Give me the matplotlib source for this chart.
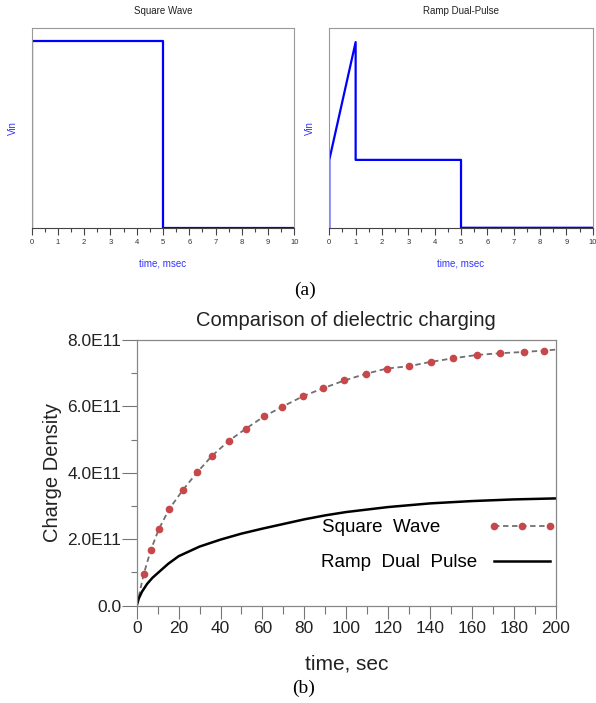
import matplotlib
matplotlib.use('Agg')
import matplotlib.pyplot as plt
from matplotlib.ticker import MultipleLocator, FuncFormatter

plt.rcParams['font.family'] = ['Liberation Sans', 'DejaVu Sans']

# (a) input waveforms, time in msec, Vin normalised
sq_t = [0, 0, 5, 5, 10]
sq_v = [0, 0.935, 0.935, 0, 0]
ramp_t = [0, 0, 1, 1, 5, 5, 10]
ramp_v = [0, 0.34, 0.93, 0.34, 0.34, 0, 0]

# (b) charge density vs time, sec
sw_t = [0, 3.3, 6.7, 10.5, 15.6, 22.0, 28.9, 35.9, 43.9, 52.1, 60.8, 69.5, 79.5,
        89.1, 99.1, 109.3, 119.4, 129.9, 140.3, 151.2, 162.6, 173.3, 184.8, 194.6, 200]
sw_q = [0, 0.94, 1.67, 2.30, 2.92, 3.48, 4.02, 4.51, 4.96, 5.33, 5.70, 5.99, 6.31,
        6.55, 6.78, 6.98, 7.14, 7.21, 7.34, 7.45, 7.55, 7.60, 7.64, 7.68, 7.71]
rdp_t = [0, 1, 2.5, 5, 7.5, 10, 15, 20, 30, 40, 50, 60, 70, 80, 90, 100, 120, 140, 160, 180, 200]
rdp_q = [0, 0.22, 0.42, 0.66, 0.84, 0.98, 1.26, 1.49, 1.78, 1.99, 2.17, 2.32, 2.46, 2.60, 2.72,
         2.82, 2.97, 3.08, 3.15, 3.20, 3.23]
sw_q = [v * 1e11 for v in sw_q]
rdp_q = [v * 1e11 for v in rdp_q]

fig = plt.figure(figsize=(5.96, 7.03), dpi=100)

blue = '#0000ff'
frame = '#999999'


def wave_panel(rect, t, v, title):
    ax = fig.add_axes(rect)
    ax.plot(t, v, color=blue, lw=1.6)
    ax.set_xlim(0, 10)
    ax.set_ylim(0, 1)
    ax.set_yticks([])
    ax.xaxis.set_major_locator(MultipleLocator(1))
    ax.xaxis.set_minor_locator(MultipleLocator(0.5))
    ax.tick_params(axis='x', which='major', length=5, width=0.8, color='#444444',
                   labelsize=5.5, labelcolor='#333333', pad=3)
    ax.tick_params(axis='x', which='minor', length=3, width=0.8, color='#444444')
    for s in ax.spines.values():
        s.set_color(frame)
        s.set_linewidth(0.8)
    ax.spines['bottom'].set_color('#444444')
    ax.set_title(title, fontsize=7, color='#222222', pad=10)
    ax.set_xlabel('time, msec', fontsize=7, color='#3333ff', labelpad=9)
    ax.set_ylabel('Vin', fontsize=7, color='#3333ff', labelpad=10)
    return ax


wave_panel([0.053, 0.676, 0.441, 0.284], sq_t, sq_v, 'Square Wave')
wave_panel([0.5525, 0.676, 0.442, 0.284], ramp_t, ramp_v, 'Ramp Dual-Pulse')
fig.text(0.512, 0.587, '(a)', fontsize=14, family='Liberation Serif', ha='center', va='center')

ax = fig.add_axes([0.2294, 0.1384, 0.703, 0.378])
ax.plot(sw_t, sw_q, color='#707070', ls=(0, (3, 2)), lw=1.3,
        marker='o', ms=4.5, mfc='#c8474a', mec='#c8474a', markevery=slice(1, -1),
        label='Square  Wave       ')
ax.plot(rdp_t, rdp_q, color='black', lw=1.8, label='Ramp  Dual  Pulse')
ax.set_xlim(0, 200)
ax.set_ylim(0, 8e11)
ax.xaxis.set_major_locator(MultipleLocator(20))
ax.xaxis.set_minor_locator(MultipleLocator(10))
ax.yaxis.set_major_locator(MultipleLocator(2e11))
ax.yaxis.set_minor_locator(MultipleLocator(1e11))


def fmt(v, pos):
    if v == 0:
        return '0.0'
    return '%.1fE11' % (v / 1e11)


ax.yaxis.set_major_formatter(FuncFormatter(fmt))
ax.tick_params(axis='x', which='major', length=9, width=0.8, color='#777777',
               labelsize=12.5, labelcolor='#222222', pad=2)
ax.tick_params(axis='x', which='minor', length=6, width=0.8, color='#777777')
ax.tick_params(axis='y', which='major', length=11, width=0.8, color='#777777',
               labelsize=12.5, labelcolor='#222222', pad=0)
ax.tick_params(axis='y', which='minor', length=4, width=0.8, color='#777777')
for s in ax.spines.values():
    s.set_color('#888888')
    s.set_linewidth(0.9)
ax.set_title('Comparison of dielectric charging', fontsize=14.5, color='#222222', pad=10)
ax.set_xlabel('time, sec', fontsize=15, color='#222222', labelpad=13)
ax.set_ylabel('Charge Density', fontsize=14.5, color='#222222', labelpad=4)
ax.legend(loc='upper left', bbox_to_anchor=(0.44, 0.325), frameon=False,
          markerfirst=False, fontsize=13.5, handlelength=3.6, handletextpad=0.6,
          numpoints=3, borderpad=0, borderaxespad=0, labelspacing=0.95)
fig.text(0.51, 0.021, '(b)', fontsize=14, family='Liberation Serif', ha='center', va='center')

fig.savefig('out.png', dpi=100)
